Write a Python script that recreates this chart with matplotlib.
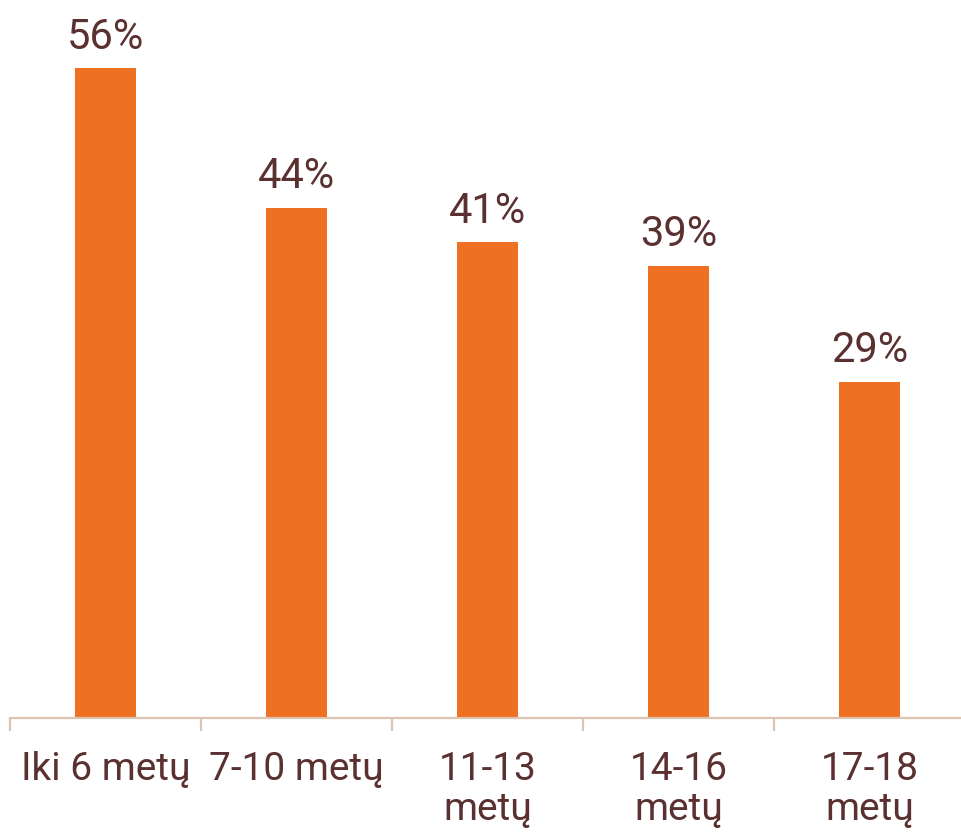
import numpy as np
import matplotlib.pyplot as plt

# duomenys
categories = ['Iki 6 metų', '7-10 metų', '11-13\nmetų', '14-16\nmetų', '17-18\nmetų']
values = [56, 44, 41, 39, 29]

bar_color = '#EE7023'
text_color = '#5A3030'
axis_color = '#DCC3B2'

plt.rcParams['font.family'] = ['Roboto', 'DejaVu Sans']

fig = plt.figure(figsize=(9.61, 8.36), dpi=100)
ax = fig.add_axes([10 / 961, 118 / 836, 955 / 961, 696 / 836])

x = np.arange(len(categories))
bars = ax.bar(x, values, width=0.315, color=bar_color)

for xi, v in zip(x, values):
    ax.text(xi, v + 1.65, f'{v}%', ha='center', va='baseline',
            fontsize=30, color=text_color)

ax.set_xlim(-0.5, len(categories) - 0.5)
ax.set_ylim(0, 60)

for s in ['top', 'left', 'right']:
    ax.spines[s].set_visible(False)
ax.spines['bottom'].set_color(axis_color)
ax.spines['bottom'].set_linewidth(1.6)

ax.set_yticks([])
ax.set_xticks(x)
ax.set_xticklabels(categories, fontsize=28, color=text_color, linespacing=1.1)
ax.tick_params(axis='x', which='major', length=0, pad=24)
ax.set_xticks(np.arange(-0.5, len(categories)), minor=True)
ax.tick_params(axis='x', which='minor', length=9.5, width=1.6, color=axis_color)

fig.savefig('out.png', dpi=100)
